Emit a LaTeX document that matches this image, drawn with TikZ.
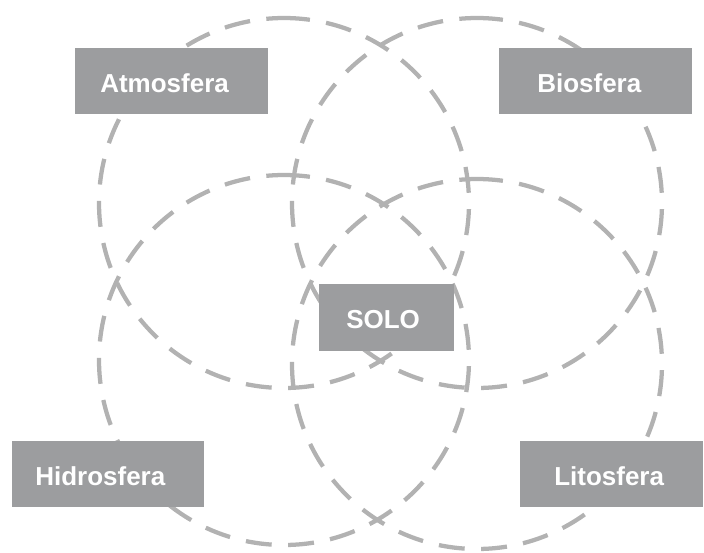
\documentclass[tikz,border=0pt]{standalone}
\usepackage{fontspec}
\setmainfont{Liberation Sans}
\definecolor{boxgray}{RGB}{156,157,159}
\definecolor{dashgray}{RGB}{178,178,178}
\begin{document}
\begin{tikzpicture}[x=0.75pt,y=-0.75pt,
  ring/.style={draw=dashgray, line width=3.2pt, dash pattern=on 19.5pt off 12.3pt},
  boxnode/.style={fill=boxgray, draw=none, inner sep=0pt, anchor=north west, minimum height=49.5pt},
  lbl/.style={text=white, font=\fontsize{19.5}{23}\selectfont\bfseries, inner sep=0pt, anchor=base west}]
\useasboundingbox (0,0) rectangle (704,553);
\coordinate (c1) at (284,203);
\coordinate (c2) at (477,203);
\coordinate (c3) at (284,360);
\coordinate (c4) at (477,364);
\foreach \c in {c1,c2,c3,c4}{
  \draw[ring] (\c) ++(0,-185) arc[start angle=-90, end angle=270, radius=185];
}
\node[boxnode, minimum width=144.75pt] (batm) at (75,48) {};
\node[boxnode, minimum width=144.75pt] (bbio) at (499,48) {};
\node[boxnode, minimum width=101.25pt, minimum height=50.25pt] (bsolo) at (319,284) {};
\node[boxnode, minimum width=144pt] (bhid) at (12,441) {};
\node[boxnode, minimum width=137.25pt] (blit) at (520,441) {};
\node[lbl] (tatm) at (100,92) {Atmosfera};
\node[lbl] (tbio) at (537,92) {Biosfera};
\node[lbl] (tsolo) at (346,328) {SOLO};
\node[lbl] (thid) at (35,485) {Hidrosfera};
\node[lbl] (tlit) at (554,485) {Litosfera};
\end{tikzpicture}
\end{document}
